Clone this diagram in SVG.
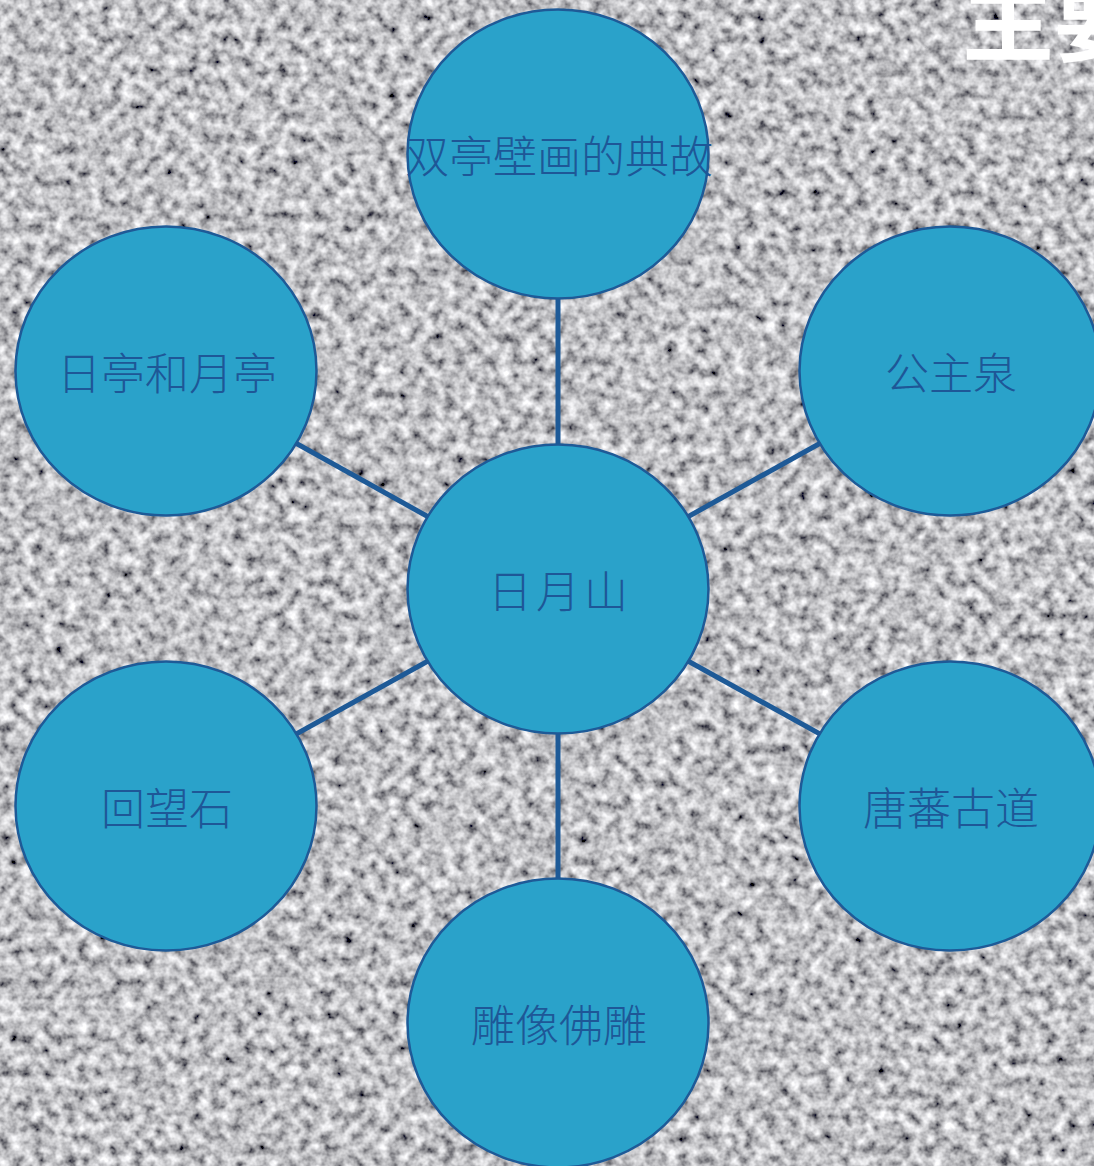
<svg xmlns="http://www.w3.org/2000/svg" width="1094" height="1166" viewBox="0 0 1094 1166">
<defs>
<filter id="noise" x="0" y="0" width="1094" height="1166" filterUnits="userSpaceOnUse">
<feTurbulence type="fractalNoise" baseFrequency="0.09" numOctaves="3" seed="7" result="t"/>
<feColorMatrix in="t" type="matrix" values="1.45 0 0 0 -0.2  1.45 0 0 0 -0.2  1.45 0 0 0 -0.18  0 0 0 0 1"/>
</filter>
<style>
.node ellipse{fill:#2aa2ca;stroke:#1e5a97;stroke-width:2.5}
.node text{font-family:"Noto Sans CJK SC","Noto Sans CJK JP",sans-serif;font-size:44px;font-weight:300;fill:#1e5797;text-anchor:middle;dominant-baseline:central}
.conn line{stroke:#1e5a97;stroke-width:5}
.title{font-family:"Noto Sans CJK SC",sans-serif;font-weight:700;font-size:92px;fill:#ffffff}
</style>
</defs>
<rect width="1094" height="1166" fill="#a0a0a4"/>
<rect width="1094" height="1166" filter="url(#noise)"/>
<text class="title" x="962" y="54">主要</text>
<g id="connectors" class="conn">
<line x1="558" y1="589" x2="558" y2="154"/>
<line x1="558" y1="589" x2="166" y2="371"/>
<line x1="558" y1="589" x2="950" y2="371"/>
<line x1="558" y1="589" x2="166" y2="806"/>
<line x1="558" y1="589" x2="950" y2="806"/>
<line x1="558" y1="589" x2="558" y2="1023"/>
</g>
<g id="node-center" class="node"><ellipse cx="558" cy="589" rx="150.5" ry="144.5"/><text x="560" y="589" letter-spacing="4">日月山</text></g>
<g id="node-top" class="node"><ellipse cx="558" cy="154" rx="150.5" ry="144.5"/><text x="559" y="154">双亭壁画的典故</text></g>
<g id="node-topleft" class="node"><ellipse cx="166" cy="371" rx="150.5" ry="144.5"/><text x="167" y="371">日亭和月亭</text></g>
<g id="node-topright" class="node"><ellipse cx="950" cy="371" rx="150.5" ry="144.5"/><text x="951" y="371">公主泉</text></g>
<g id="node-bottomleft" class="node"><ellipse cx="166" cy="806" rx="150.5" ry="144.5"/><text x="167" y="806">回望石</text></g>
<g id="node-bottomright" class="node"><ellipse cx="950" cy="806" rx="150.5" ry="144.5"/><text x="951" y="806">唐蕃古道</text></g>
<g id="node-bottom" class="node"><ellipse cx="558" cy="1023" rx="150.5" ry="144.5"/><text x="559" y="1023">雕像佛雕</text></g>
</svg>
